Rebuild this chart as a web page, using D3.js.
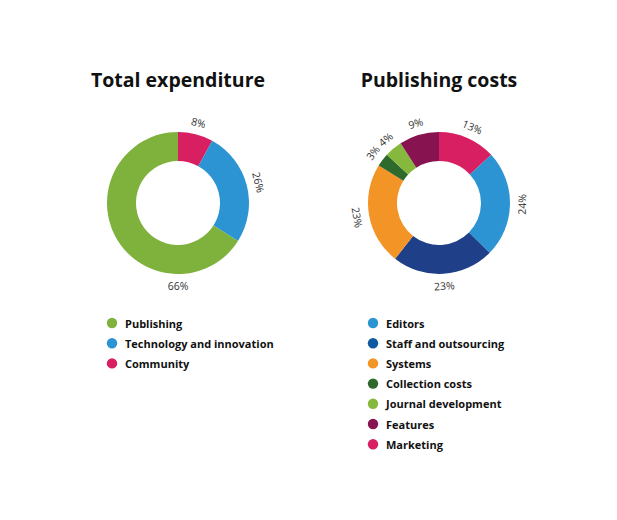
<!DOCTYPE html>
<html>
<head>
<meta charset="utf-8">
<script src="https://cdn.jsdelivr.net/npm/d3@7"></script>
<style>
  body { margin: 0; background: #fff; font-family: "Open Sans", "Noto Sans", sans-serif; }
  .title { font-size: 19.5px; font-weight: 700; fill: #111; }
  .pct { font-size: 10.5px; fill: #333; }
  .legend-label { font-size: 11px; font-weight: 700; fill: #111; }
</style>
</head>
<body>
<div id="chart"></div>
<script>
// Left chart: Total expenditure
const totalCategories = ["Community", "Technology and innovation", "Publishing"];
const totalValues = [8, 26, 66];
const totalColors = ["#d81f62", "#2c94d3", "#7fb23c"];
const totalLegendOrder = ["Publishing", "Technology and innovation", "Community"];

// Right chart: Publishing costs
const pubCategories = ["Marketing", "Editors", "Staff and outsourcing", "Systems", "Collection costs", "Journal development", "Features"];
const pubValues = [13, 24, 23, 23, 3, 4, 9];
const pubColors = ["#d81f62", "#2c94d3", "#1f3f88", "#f39426", "#2e6a2c", "#85b83c", "#871451"];
const pubLegendOrder = ["Editors", "Staff and outsourcing", "Systems", "Collection costs", "Journal development", "Features", "Marketing"];
const pubLegendColors = {"Staff and outsourcing": "#0f5aa0"};

const W = 617, H = 520;
const svg = d3.select("#chart").append("svg").attr("width", W).attr("height", H);

function donut(cx, title, cats, vals, colors, legendOrder, legendColors) {
  const cy = 203, outer = 71, inner = 42, labelR = 83;
  const g = svg.append("g").attr("transform", `translate(${cx},${cy})`);

  svg.append("text").attr("class", "title")
    .attr("x", cx).attr("y", 87).attr("text-anchor", "middle").text(title);

  const data = cats.map((c, i) => ({ name: c, value: vals[i] }));
  const color = d3.scaleOrdinal().domain(cats).range(colors);
  const pie = d3.pie().sort(null).value(d => d.value);
  const arc = d3.arc().innerRadius(inner).outerRadius(outer);
  const arcs = pie(data);

  g.selectAll("path").data(arcs).enter().append("path")
    .attr("d", arc).attr("fill", d => color(d.data.name));

  g.selectAll(".pct").data(arcs).enter().append("text")
    .attr("class", "pct")
    .attr("text-anchor", "middle").attr("dominant-baseline", "central")
    .attr("transform", d => {
      let a = (d.startAngle + d.endAngle) / 2;
      // slices over half the ring get their label at the bottom
      if (d.endAngle - d.startAngle > Math.PI) a = Math.PI;
      const x = labelR * Math.sin(a), y = -labelR * Math.cos(a);
      let deg = a * 180 / Math.PI;
      if (deg > 90 && deg < 270) deg -= 180;
      else if (deg >= 270) deg -= 360;
      return `translate(${x},${y}) rotate(${deg})`;
    })
    .text(d => d.data.value + "%");

  const lx = cx - 66, ly = 323, step = 20.2;
  const leg = svg.append("g");
  legendOrder.forEach((name, i) => {
    const y = ly + i * step;
    leg.append("circle").attr("cx", lx).attr("cy", y).attr("r", 5.2)
      .attr("fill", (legendColors && legendColors[name]) || color(name));
    leg.append("text").attr("class", "legend-label")
      .attr("x", lx + 13).attr("y", y).attr("dominant-baseline", "central").text(name);
  });
}

donut(178, "Total expenditure", totalCategories, totalValues, totalColors, totalLegendOrder, null);
donut(439, "Publishing costs", pubCategories, pubValues, pubColors, pubLegendOrder, pubLegendColors);
</script>
</body>
</html>
